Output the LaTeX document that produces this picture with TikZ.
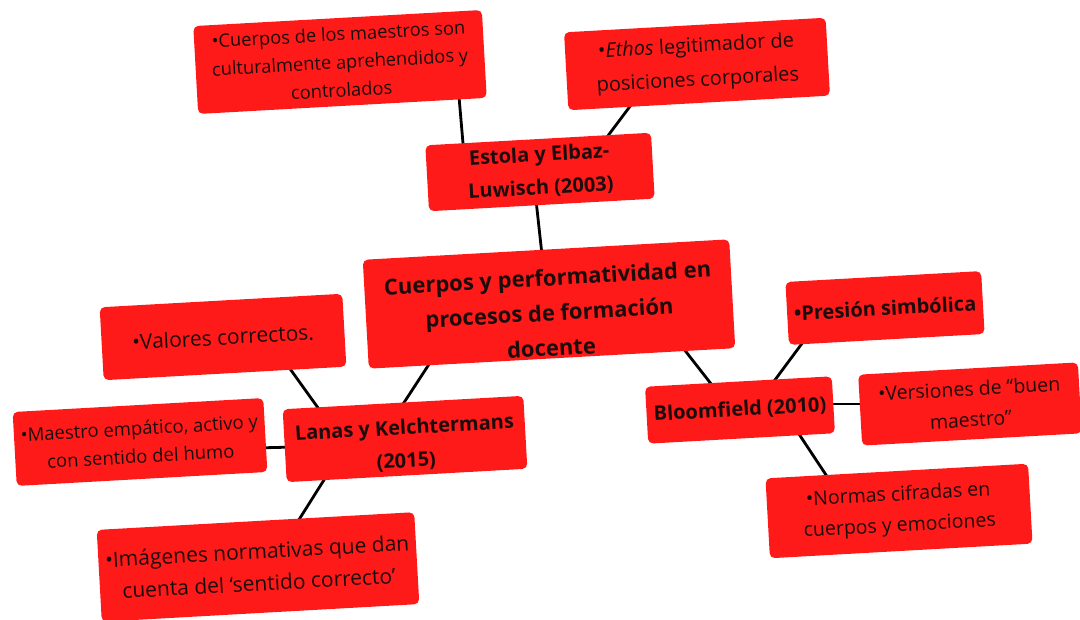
\documentclass[tikz,border=0pt]{standalone}
\usepackage{fontspec}
\setmainfont{Open Sans}
\usetikzlibrary{calc,backgrounds}
\definecolor{mapRed}{RGB}{255,26,26}
\definecolor{mapInk}{RGB}{28,12,12}

\begin{document}
\begin{tikzpicture}[x=1pt,y=-1pt,
  mapBox/.style={fill=mapRed,text=mapInk,rounded corners=5pt,rotate=3.2,align=center,inner sep=0pt,
    font=\fontsize{19}{30}\selectfont},
  mapHead/.style={mapBox,font=\fontsize{20}{33}\selectfont\bfseries},
  mapLink/.style={line width=2.8pt,black}]
\useasboundingbox (0,0) rectangle (1080,620);

\node[mapBox,font=\fontsize{18.3}{28}\selectfont,minimum width=289pt,minimum height=88pt] (cuerposMaestros) at (340,62)
  {•Cuerpos de los maestros son\\culturalmente aprehendidos y\\controlados};
\node[mapBox,font=\fontsize{20}{34}\selectfont,minimum width=262pt,minimum height=78pt] (ethos) at (697,64)
  {•\textit{Ethos} legitimador de\\posiciones corporales};
\node[mapHead,minimum width=226pt,minimum height=66pt] (estola) at (540,172)
  {Estola y Elbaz-\\Luwisch (2003)};
\node[mapHead,font=\fontsize{22}{35}\selectfont\bfseries,text height=104pt,minimum width=367pt,minimum height=109pt] (cuerpos) at (549,304)
  {Cuerpos y performatividad en\\procesos de formación\\docente};

\node[mapBox,font=\fontsize{21}{30}\selectfont,minimum width=243pt,minimum height=73pt] (valores) at (223,337)
  {•Valores correctos.};
\node[mapBox,font=\fontsize{18.5}{28}\selectfont,minimum width=251pt,minimum height=74pt] (maestro) at (140,442)
  {•Maestro empático, activo y\\con sentido del humo};
\node[mapHead,text height=60pt,minimum width=241pt,minimum height=73pt] (lanas) at (405,439)
  {Lanas y Kelchtermans\\(2015)};
\node[mapBox,font=\fontsize{21}{32}\selectfont,minimum width=318pt,minimum height=92pt] (imagenes) at (258,567)
  {•Imágenes normativas que dan\\cuenta del ‘sentido correcto’};

\node[mapHead,minimum width=196pt,minimum height=63pt] (presion) at (885,308)
  {•Presión simbólica};
\node[mapHead,minimum width=187pt,minimum height=57pt] (bloomfield) at (740,410)
  {Bloomfield (2010)};
\node[mapBox,font=\fontsize{19.5}{31}\selectfont,minimum width=220pt,minimum height=71pt] (versiones) at (970,404)
  {•Versiones de “buen\\maestro”};
\node[mapBox,font=\fontsize{19.5}{31}\selectfont,minimum width=263pt,minimum height=80pt] (normas) at (899,511)
  {•Normas cifradas en\\cuerpos y emociones};

\begin{pgfonlayer}{background}
\draw[mapLink] ($(cuerposMaestros)+(118,23)$) -- ($(estola)+(-76,-17)$);
\draw[mapLink] ($(ethos)+(-60,33)$) -- ($(estola)+(61,-27)$);
\draw[mapLink] ($(estola)+(-4,28)$) -- ($(cuerpos)+(-6,-40)$);
\draw[mapLink] ($(cuerpos)+(-112,48)$) -- ($(lanas)+(-13,-18)$);
\draw[mapLink] ($(valores)+(60,22)$) -- ($(lanas)+(-79,-20)$);
\draw[mapLink] ($(maestro)+(115,6)$) -- ($(lanas)+(-110,8)$);
\draw[mapLink] ($(lanas)+(-76,33)$) -- ($(imagenes)+(37,-41)$);
\draw[mapLink] ($(cuerpos)+(127,35)$) -- ($(bloomfield)+(-21,-16)$);
\draw[mapLink] ($(presion)+(-76,26)$) -- ($(bloomfield)+(29,-22)$);
\draw[mapLink] ($(bloomfield)+(83,-6)$) -- ($(versiones)+(-96,0)$);
\draw[mapLink] ($(bloomfield)+(51,12)$) -- ($(normas)+(-65,-24)$);
\end{pgfonlayer}
\end{tikzpicture}
\end{document}
